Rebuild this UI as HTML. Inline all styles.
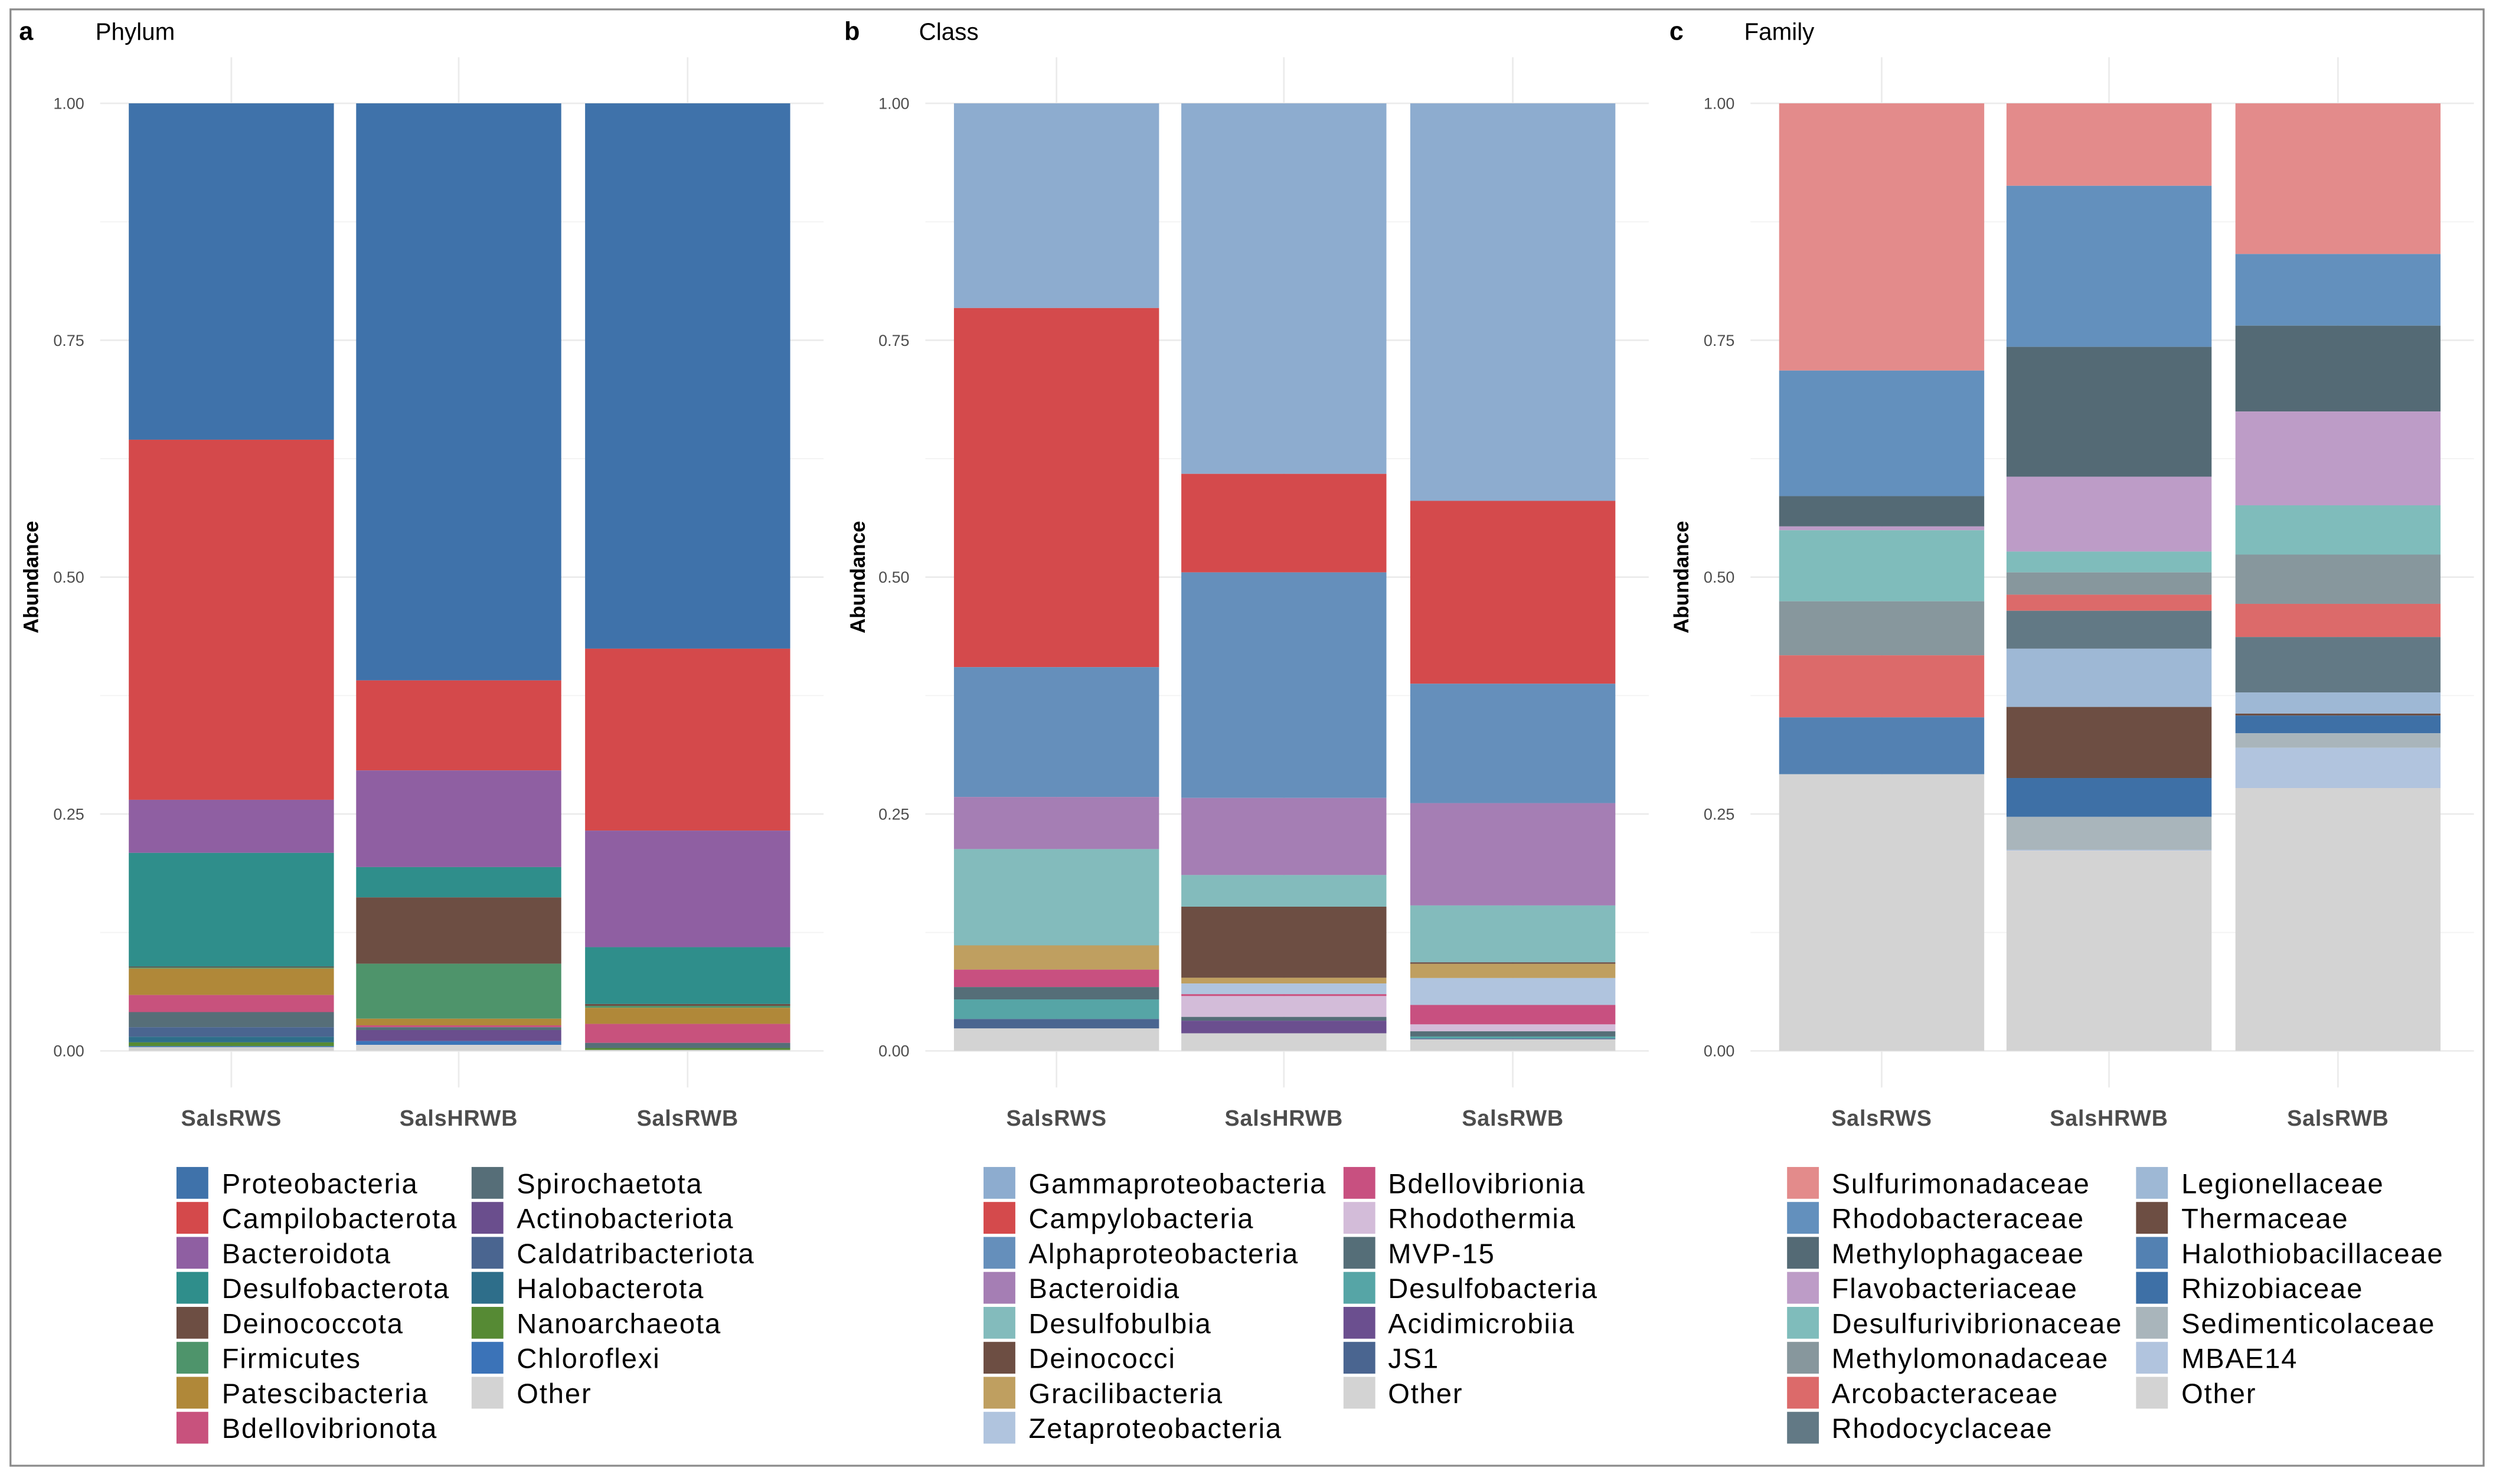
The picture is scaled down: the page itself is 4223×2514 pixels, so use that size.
<!DOCTYPE html>
<html><head><meta charset="utf-8"><style>
html,body{margin:0;padding:0;background:#fff;}
svg{display:block;}
text{font-family:"Liberation Sans",sans-serif;}
</style></head><body>
<svg id="chart" width="4223" height="2514" viewBox="0 0 1568 933.4" preserveAspectRatio="none" xmlns="http://www.w3.org/2000/svg">
<rect x="0" y="0" width="1568" height="933.4" fill="#fff"/>
<rect x="6.6" y="5.9" width="1555.5" height="916" fill="none" stroke="#8a8a8a" stroke-width="1.2"/>
</svg>
<script>
const samples = ["SalsRWS","SalsHRWB","SalsRWB"];
const ticks = [0,0.25,0.5,0.75,1];
const tickLabels = ["0.00","0.25","0.50","0.75","1.00"];

const phylumTaxa = ["Proteobacteria","Campilobacterota","Bacteroidota","Desulfobacterota","Deinococcota","Firmicutes","Patescibacteria","Bdellovibrionota","Spirochaetota","Actinobacteriota","Caldatribacteriota","Halobacterota","Nanoarchaeota","Chloroflexi","Other"];
const phylumColors = ["#3f72aa","#d4494b","#8f5fa2","#2f8e8b","#6d4e43","#4e946b","#b08839","#c8527d","#566e78","#6a4e8d","#4a6590","#2e6e8a","#568a34","#3b73b8","#d3d3d3"];
const phylumSalsRWS  = [0.355,0.380,0.056,0.120,0.001,0.001,0.028,0.018,0.016,0.000,0.010,0.006,0.004,0.001,0.004];
const phylumSalsHRWB = [0.609,0.095,0.102,0.032,0.070,0.058,0.007,0.002,0.003,0.0116,0.000,0.000,0.000,0.004,0.006];
const phylumSalsRWB  = [0.5755,0.192,0.123,0.060,0.002,0.002,0.017,0.020,0.0055,0.000,0.000,0.000,0.002,0.000,0.0008];

const classTaxa = ["Gammaproteobacteria","Campylobacteria","Alphaproteobacteria","Bacteroidia","Desulfobulbia","Deinococci","Gracilibacteria","Zetaproteobacteria","Bdellovibrionia","Rhodothermia","MVP-15","Desulfobacteria","Acidimicrobiia","JS1","Other"];
const classColors = ["#8daccf","#d44a4c","#658fbb","#a57eb4","#83bbbc","#6d4e43","#bf9f60","#b0c4de","#c85080","#d3bcd9","#556e78","#56a5a6","#6b4f8f","#4a6590","#d3d3d3"];
const classSalsRWS  = [0.216,0.379,0.137,0.055,0.1016,0.000,0.0256,0.000,0.0184,0.000,0.013,0.0207,0.000,0.010,0.0237];
const classSalsHRWB = [0.391,0.104,0.238,0.0814,0.0334,0.075,0.006,0.0113,0.002,0.022,0.004,0.000,0.0133,0.000,0.0186];
const classSalsRWB  = [0.4195,0.193,0.126,0.108,0.060,0.0016,0.015,0.0284,0.0205,0.0073,0.0055,0.002,0.000,0.001,0.0122];

const familyTaxa = ["Sulfurimonadaceae","Rhodobacteraceae","Methylophagaceae","Flavobacteriaceae","Desulfurivibrionaceae","Methylomonadaceae","Arcobacteraceae","Rhodocyclaceae","Legionellaceae","Thermaceae","Halothiobacillaceae","Rhizobiaceae","Sedimenticolaceae","MBAE14","Other"];
const familyColors = ["#e38b8b","#6390bd","#546a75","#bd9cc7","#7fbcbb","#87979d","#dc6a6a","#627985","#9eb8d5","#6d4e43","#5381b2","#3e70a6","#a9b5bb","#b1c4de","#d3d3d3"];
const familySalsRWS  = [0.282,0.1325,0.032,0.004,0.075,0.057,0.0655,0.000,0.000,0.000,0.060,0.000,0.000,0.000,0.292];
const familySalsHRWB = [0.087,0.170,0.137,0.079,0.022,0.0235,0.017,0.040,0.0615,0.075,0.000,0.041,0.0347,0.001,0.2113];
const familySalsRWB  = [0.159,0.0756,0.0906,0.099,0.052,0.052,0.035,0.0585,0.0223,0.0021,0.000,0.0187,0.0153,0.0425,0.2774];

const NS = "http://www.w3.org/2000/svg";
const svg = document.getElementById("chart");
function mk(tag, attrs, parent){ const e=document.createElementNS(NS,tag); for(const k in attrs) e.setAttribute(k,attrs[k]); (parent||svg).appendChild(e); return e; }

const panels = [
  {key:"phylum", letter:"a", title:"Phylum", letterX:12, titleX:60, plotL:63, plotR:518, bars:[81,224,368], tickR:53, ylabX:20,
   taxa:phylumTaxa, colors:phylumColors, series:[phylumSalsRWS,phylumSalsHRWB,phylumSalsRWB], leg:[[111,139.5],[296.6,325]], split:8},
  {key:"class", letter:"b", title:"Class", letterX:531, titleX:578, plotL:582, plotR:1037, bars:[600,743,887], tickR:572, ylabX:540,
   taxa:classTaxa, colors:classColors, series:[classSalsRWS,classSalsHRWB,classSalsRWB], leg:[[618.6,647],[845,873]], split:8},
  {key:"family", letter:"c", title:"Family", letterX:1050, titleX:1097, plotL:1101, plotR:1556, bars:[1119,1262,1406], tickR:1091, ylabX:1058,
   taxa:familyTaxa, colors:familyColors, series:[familySalsRWS,familySalsHRWB,familySalsRWB], leg:[[1124,1152],[1343.5,1372]], split:8}
];
const Y0 = 661, Y1 = 65, BW = 129;
function yScale(v){ return Y0 - v*(Y0-Y1); }

panels.forEach(p=>{
  const g = mk("g",{});
  
  
  for(let i=0;i<4;i++){
    const v = 0.125+0.25*i;
    const l = mk("line",{x1:p.plotL,x2:p.plotR,y1:yScale(v),y2:yScale(v),stroke:"#f3f3f3","stroke-width":0.7},g);
    
    
  }
  ticks.forEach((t,i)=>{
    const l = mk("line",{x1:p.plotL,x2:p.plotR,y1:yScale(t),y2:yScale(t),stroke:"#ebebeb","stroke-width":1},g);
    
    
    const tx = mk("text",{x:p.tickR,y:yScale(t)+3.5,"text-anchor":"end","font-size":"10",fill:"#4d4d4d"},g);
    tx.textContent = tickLabels[i];
    
    
  });
  p.bars.forEach(bx=>{
    const l = mk("line",{x1:bx+BW/2,x2:bx+BW/2,y1:36,y2:684,stroke:"#ebebeb","stroke-width":1},g);
    
    
  });
  p.series.forEach((vals,si)=>{
    const bx = p.bars[si];
    let cum = 1;
    vals.forEach((v,ti)=>{
      if(v<=0) return;
      const top = cum, bot = Math.max(0,cum - v);
      const r = mk("rect",{x:bx,y:yScale(top),width:BW,height:Math.max(0,yScale(bot)-yScale(top)),fill:p.colors[ti]},g);
      
      
      cum = bot;
    });
    if(cum>0){
      const r = mk("rect",{x:bx,y:yScale(cum),width:BW,height:yScale(0)-yScale(cum),fill:p.colors[p.colors.length-1]},g);
      
      
    }
    const xl = mk("text",{x:bx+BW/2,y:708,"text-anchor":"middle","font-size":"14","font-weight":"bold",fill:"#4d4d4d","letter-spacing":"0.3"},g);
    xl.textContent = samples[si];
    
    
  });
  const yt = mk("text",{x:0,y:0,"text-anchor":"middle","font-size":"13","font-weight":"bold",fill:"#000",transform:"translate("+(p.ylabX+4)+",363) rotate(-90)"},g);
  yt.textContent = "Abundance";
  
  
  const lt = mk("text",{x:p.letterX,y:25,"font-size":"16","font-weight":"bold",fill:"#000"},g);
  lt.textContent = p.letter;
  
  
  const tt = mk("text",{x:p.titleX,y:25,"font-size":"15",fill:"#000"},g);
  tt.textContent = p.title;
  
  
  p.taxa.forEach((name,ti)=>{
    const col = ti<p.split ? 0 : 1;
    const row = ti<p.split ? ti : ti-p.split;
    const cy = 744 + row*22;
    const sw = mk("rect",{x:p.leg[col][0],y:cy-10,width:20,height:20,fill:p.colors[ti]},g);
    
    
    const t = mk("text",{x:p.leg[col][1],y:cy+6.5,"font-size":"17.5",fill:"#000","letter-spacing":"0.7"},g);
    t.textContent = name;
    
    
  });
});
</script>
</body></html>
